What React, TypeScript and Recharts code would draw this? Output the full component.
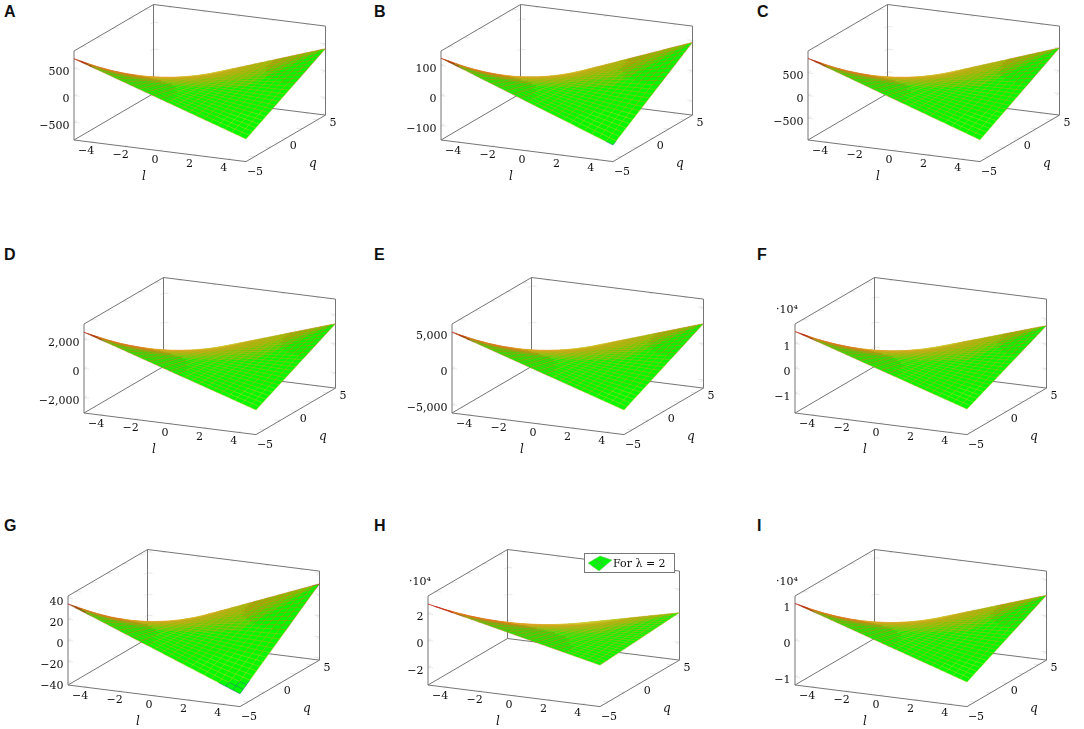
import * as React from "react";
import { Area, ComposedChart, Line, ReferenceDot, XAxis, YAxis } from "recharts";

const letters = ["A", "B", "C", "D", "E", "F", "G", "H", "I"];
const letterX = [4, 374, 757, 4, 374, 757, 4, 374, 757];
const letterY = [18, 18, 18, 261, 261, 261, 532, 532, 532];

// page position of the l=-5, q=-5 floor corner of each box
const originX = [74, 441, 808, 84.3, 451.7, 795, 68.3, 428.3, 795];
const originY = [140, 140, 140, 412.7, 412.7, 412.7, 685, 685, 685];

const zLimit = [830, 148, 980, 3060, 6130, 1.78, 42, 3.34, 1.225];
const zTicks = [
  [-500, 0, 500],
  [-100, 0, 100],
  [-500, 0, 500],
  [-2000, 0, 2000],
  [-5000, 0, 5000],
  [-1, 0, 1],
  [-40, -20, 0, 20, 40],
  [-2, 0, 2],
  [-1, 0, 1],
];
const hasPower = [false, false, false, false, false, true, false, true, true];

// surface height at its four corners.
// the surface is ruled, so its mesh lines are straight between the box edges
const zAtLeft = [685, 124, 817, 2490, 5000, 1.48, 34.5, 2.74, 1.02];
const zAtFront = [-410, -93, -502, -1370, -2750, -0.76, -30, -0.23, -0.55];
const zAtRight = [410, 94, 502, 1370, 2750, 0.72, 30, 0.22, 0.56];
const zAtBack = [-685, -124, -817, -2490, -5000, -1.48, -34.5, -2.74, -1.02];

const lTicks = [-4, -2, 0, 2, 4];
const qTicks = [-5, 0, 5];
const meshStops = Array.from({ length: 25 }, (_, i) => -5 + (i * 10) / 24);

const meshColors = ["#35608f", "#d8c830", "#e8a028", "#e87020", "#d01010"];
const meshOpacity = [0.85, 0.8, 0.75, 0.75, 0.8];
const meshLimits = [-0.55, -0.2, 0.1, 0.65];

// olive shade under the upper rim, as shares of the surface's height on screen
const shadeShares = [0.1, 0.18, 0.28];

const W = 350;
const H = 188;
const OX = 70;
const OY = 145;
const SERIF = "'DejaVu Serif', serif";

type Pt = { x: number; y: number | null };

function minus(v: number) {
  return v.toLocaleString("en-US").replace("-", "−");
}

function Panel({ idx }: { idx: number }) {
  const lim = zLimit[idx];
  const project = (l: number, q: number, z: number) => ({
    x: OX + ((l + 5) / 10) * 172 + ((q + 5) / 10) * 79.5,
    y: OY + ((l + 5) / 10) * 21.6 - ((q + 5) / 10) * 46.5 - ((z + lim) / (2 * lim)) * 89,
  });
  const surfaceZ = (l: number, q: number) => {
    const u = (l + 5) / 10;
    const v = (q + 5) / 10;
    return (
      (1 - u) * (1 - v) * zAtLeft[idx] +
      u * (1 - v) * zAtFront[idx] +
      u * v * zAtRight[idx] +
      (1 - u) * v * zAtBack[idx]
    );
  };

  // which way the surface faces on screen; the part folded behind the front sheet is not drawn
  const facing = (l: number, q: number) => {
    const e = 0.01;
    const p = project(l, q, surfaceZ(l, q));
    const a = project(l + e, q, surfaceZ(l + e, q));
    const b = project(l, q + e, surfaceZ(l, q + e));
    return (a.x - p.x) * (b.y - p.y) - (a.y - p.y) * (b.x - p.x);
  };
  const frontSign = Math.sign(facing(5, -5));
  const visible = (l: number, q: number) => Math.sign(facing(l, q)) === frontSign;

  const seg = (rows: Pt[], a: number[], b: number[]) => {
    const p = project(a[0], a[1], a[2]);
    const r = project(b[0], b[1], b[2]);
    rows.push(p, r, { x: r.x, y: null });
  };

  // box
  const backBox: Pt[] = [];
  seg(backBox, [-5, -5, -lim], [-5, -5, lim]);
  seg(backBox, [-5, -5, lim], [-5, 5, lim]);
  seg(backBox, [-5, 5, lim], [5, 5, lim]);
  seg(backBox, [5, 5, lim], [5, 5, -lim]);
  seg(backBox, [-5, 5, lim], [-5, 5, -lim]);
  seg(backBox, [-5, 5, -lim], [-5, -5, -lim]);
  seg(backBox, [-5, 5, -lim], [5, 5, -lim]);
  seg(backBox, [-5, -5, -lim], [5, -5, -lim]);
  seg(backBox, [5, -5, -lim], [5, 5, -lim]);

  // small faint tick marks
  const marks: Pt[] = [];
  const dz = lim * 0.03;
  lTicks.forEach((l) => {
    seg(marks, [l, -5, -lim], [l, -4.7, -lim]);
    seg(marks, [l, -5, -lim], [l, -5, -lim + dz]);
    seg(marks, [l, 5, lim], [l, 4.7, lim]);
    seg(marks, [l, 5, lim], [l, 5, lim - dz]);
    seg(marks, [l, 5, -lim], [l, 4.7, -lim]);
  });
  lTicks.forEach((q) => {
    seg(marks, [5, q, -lim], [4.7, q, -lim]);
    seg(marks, [5, q, -lim], [5, q, -lim + dz]);
    seg(marks, [-5, q, lim], [-4.7, q, lim]);
    seg(marks, [-5, q, lim], [-5, q, lim - dz]);
  });
  zTicks[idx].forEach((z) => {
    seg(marks, [-5, -5, z], [-4.7, -5, z]);
    seg(marks, [-5, -5, z], [-5, -4.6, z]);
    seg(marks, [5, 5, z], [4.7, 5, z]);
    seg(marks, [5, 5, z], [5, 4.6, z]);
    seg(marks, [-5, 5, z], [-4.7, 5, z]);
    seg(marks, [-5, 5, z], [-5, 4.6, z]);
  });

  // mesh, split into colour groups by height
  const meshRows: Pt[][] = meshColors.map(() => []);
  const bucket = (t: number) => {
    const k = meshLimits.findIndex((m) => t < m);
    return k === -1 ? meshColors.length - 1 : k;
  };
  meshStops.forEach((a) => {
    meshStops.slice(0, -1).forEach((b, j) => {
      const c = meshStops[j + 1];
      const mid = (b + c) / 2;
      if (visible(a, mid)) {
        const z1 = surfaceZ(a, b);
        const z2 = surfaceZ(a, c);
        seg(meshRows[bucket((z1 + z2) / 2 / lim)], [a, b, z1], [a, c, z2]);
      }
      if (visible(mid, a)) {
        const z3 = surfaceZ(b, a);
        const z4 = surfaceZ(c, a);
        seg(meshRows[bucket((z3 + z4) / 2 / lim)], [b, a, z3], [c, a, z4]);
      }
    });
  });

  // outline of the surface seen from this angle, taken from the mesh lines
  const rulings = meshStops.flatMap((s) => [
    [project(s, -5, surfaceZ(s, -5)), project(s, 5, surfaceZ(s, 5))],
    [project(-5, s, surfaceZ(-5, s)), project(5, s, surfaceZ(5, s))],
  ]);
  const xs = rulings.flatMap((r) => [r[0].x, r[1].x]);
  const xMin = Math.min(...xs);
  const xMax = Math.max(...xs);
  const outline: Record<string, number | number[]>[] = [];
  for (let x = xMin; x <= xMax + 0.01; x += 1) {
    const sx = Math.min(x, xMax);
    let lo = Infinity;
    let hi = -Infinity;
    rulings.forEach(([a, b]) => {
      const from = Math.min(a.x, b.x);
      const to = Math.max(a.x, b.x);
      if (sx < from - 0.001 || sx > to + 0.001) return;
      const f = to === from ? 0 : (sx - a.x) / (b.x - a.x);
      const y = a.y + f * (b.y - a.y);
      lo = Math.min(lo, y);
      hi = Math.max(hi, y);
    });
    const row: Record<string, number | number[]> = { x: sx, band: [lo, hi] };
    shadeShares.forEach((s, k) => {
      row[`shade${k}`] = [lo, lo + s * (hi - lo)];
    });
    outline.push(row);
  }

  const label = (key: string, p: { x: number; y: number }, value: string, extra: object = {}) => (
    <ReferenceDot
      key={key}
      x={p.x}
      y={p.y}
      r={0}
      fill="none"
      stroke="none"
      ifOverflow="visible"
      label={{
        value,
        position: "center",
        fontSize: 11,
        fontFamily: SERIF,
        fill: "#111",
        ...extra,
      }}
    />
  );
  const shift = (p: { x: number; y: number }, dx: number, dy: number) => ({ x: p.x + dx, y: p.y + dy });

  const floorL = project(0, -5, -lim);
  const floorQ = project(5, 0, -lim);

  return (
    <div
      style={{
        position: "absolute",
        left: originX[idx] - OX,
        top: originY[idx] - OY,
        filter: "blur(0.4px)",
      }}
    >
      <ComposedChart width={W} height={H} margin={{ top: 0, right: 0, bottom: 0, left: 0 }} data={outline}>
        <XAxis dataKey="x" type="number" domain={[0, W]} hide allowDataOverflow />
        <YAxis type="number" domain={[0, H]} reversed hide allowDataOverflow />
        <Line
          data={marks}
          dataKey="y"
          stroke="#dedede"
          strokeWidth={0.7}
          dot={false}
          legendType="none"
          isAnimationActive={false}
          zIndex={20}
        />
        <Line
          data={backBox}
          dataKey="y"
          stroke="#757575"
          strokeWidth={1}
          dot={false}
          legendType="none"
          isAnimationActive={false}
          zIndex={30}
        />
        <Area
          dataKey="band"
          fill="#00f800"
          fillOpacity={1}
          stroke="none"
          dot={false}
          activeDot={false}
          legendType="none"
          isAnimationActive={false}
          zIndex={50}
        />
        {shadeShares.map((_, k) => (
          <Area
            key={k}
            dataKey={`shade${k}`}
            fill="#d0a000"
            fillOpacity={0.28}
            stroke="none"
            dot={false}
            activeDot={false}
            legendType="none"
            isAnimationActive={false}
            zIndex={55}
          />
        ))}
        {meshRows.map((rows, k) => (
          <Line
            key={k}
            data={rows}
            dataKey="y"
            stroke={meshColors[k]}
            strokeOpacity={meshOpacity[k]}
            strokeWidth={0.6}
            dot={false}
            legendType="none"
            isAnimationActive={false}
            zIndex={60}
          />
        ))}
        {lTicks.map((l) => label(`l${l}`, shift(project(l, -5, -lim), -5, 8), minus(l)))}
        {qTicks.map((q) => label(`q${q}`, shift(project(5, q, -lim), q < 0 ? 9 : 7.5, q < 0 ? 9 : 7), minus(q)))}
        {zTicks[idx].map((z) =>
          label(`z${z}`, shift(project(-5, -5, z), 0, 2.5), minus(z), { position: "left", offset: 4.5 })
        )}
        {label("lname", shift(floorL, -16, 25), "l", { fontStyle: "italic", fontSize: 12 })}
        {label("qname", shift(floorQ, 27, 24), "q", { fontStyle: "italic", fontSize: 12 })}
        {hasPower[idx] && label("pow", shift(project(-5, -5, lim), -8, -15), "·10⁴")}
      </ComposedChart>
    </div>
  );
}

export default function App() {
  return (
    <div
      style={{
        position: "absolute",
        left: 0,
        top: 0,
        width: 1084,
        height: 729,
        overflow: "hidden",
        background: "#fff",
      }}
    >
      {letters.map((_, i) => (
        <Panel key={i} idx={i} />
      ))}
      {letters.map((t, i) => (
        <div
          key={t}
          style={{
            position: "absolute",
            left: letterX[i],
            top: letterY[i] - 15,
            font: "bold 16px/18px 'Liberation Sans', sans-serif",
            color: "#111",
          }}
        >
          {t}
        </div>
      ))}
      <div
        style={{
          position: "absolute",
          left: 584,
          top: 553,
          width: 89,
          height: 18,
          border: "1px solid #777",
          background: "#fff",
          display: "flex",
          alignItems: "center",
          font: "11px 'DejaVu Serif', serif",
          color: "#111",
          filter: "blur(0.3px)",
        }}
      >
        <svg width="26" height="18" style={{ marginLeft: 2, flex: "none" }}>
          <polygon points="1,9 13,2 25,6 12,17" fill="#00f800" stroke="#7cc07c" strokeWidth="0.5" />
          <path d="M7,5 L18,12 M19,4 L6,13" stroke="#6a9a6a" strokeWidth="0.6" fill="none" />
        </svg>
        <span style={{ marginLeft: 0, whiteSpace: "nowrap" }}>For λ = 2</span>
      </div>
    </div>
  );
}
